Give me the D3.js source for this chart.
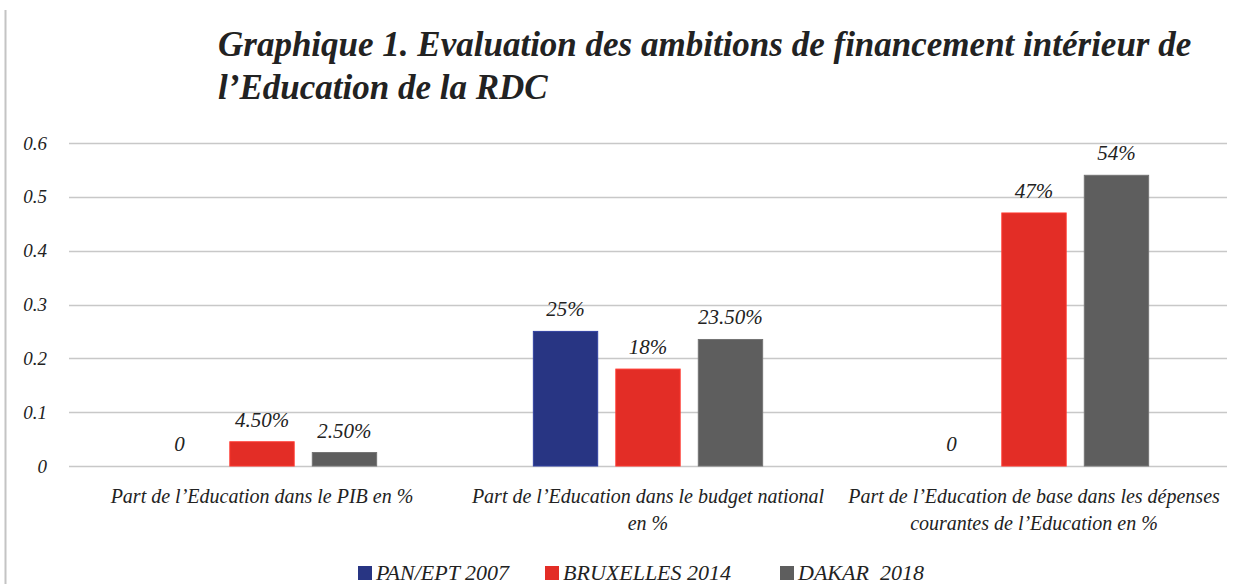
<!DOCTYPE html>
<html>
<head>
<meta charset="utf-8">
<script src="https://cdn.jsdelivr.net/npm/d3@7"></script>
<style>
  body { margin: 0; background: #fff; }
  text { font-family: "Liberation Serif", "DejaVu Serif", serif; font-style: italic; fill: #222; }
</style>
</head>
<body>
<div class="chart"></div>
<script>
// data
const categories = [
  ["Part de l’Education dans le PIB en %"],
  ["Part de l’Education dans le budget national", "en %"],
  ["Part de l’Education de base dans les dépenses", "courantes de l’Education en %"]
];
const series = ["PAN/EPT 2007", "BRUXELLES 2014", "DAKAR  2018"];
const pan = [0, 0.25, 0];
const bruxelles = [0.045, 0.18, 0.47];
const dakar = [0.025, 0.235, 0.54];
const labelsPan = ["0", "25%", "0"];
const labelsBrux = ["4.50%", "18%", "47%"];
const labelsDakar = ["2.50%", "23.50%", "54%"];
const yTicks = [0, 0.1, 0.2, 0.3, 0.4, 0.5, 0.6];
const colors = ["#283583", "#e32d26", "#5e5e5e"];

const width = 1240, height = 584;
const margin = {top: 143, left: 69, right: 13, bottom: 118};

const svg = d3.select('.chart').append('svg')
  .attr('width', width).attr('height', height);

// left page edge
svg.append('line')
  .attr('x1', 5.5).attr('x2', 5.5).attr('y1', 10).attr('y2', height)
  .attr('stroke', '#c4c4c4').attr('stroke-width', 2);

// title
const title = svg.append('text')
  .style('font-size', '35px').style('font-weight', 'bold');
title.append('tspan').attr('x', 218).attr('y', 56)
  .text("Graphique 1. Evaluation des ambitions de financement intérieur de");
title.append('tspan').attr('x', 218).attr('y', 99)
  .text("l’Education de la RDC");

const catKeys = categories.map(c => c.join(' '));

const x0 = d3.scaleBand()
  .domain(catKeys)
  .range([margin.left, width - margin.right]);

const x1 = d3.scaleBand()
  .domain(series)
  .range([0, x0.bandwidth()])
  .paddingInner(0.22)
  .paddingOuter(0.95);

const y = d3.scaleLinear()
  .domain([0, 0.6])
  .range([height - margin.bottom, margin.top]);

// gridlines
svg.append('g')
  .selectAll('line')
  .data(yTicks)
  .join('line')
  .attr('x1', margin.left).attr('x2', width - margin.right)
  .attr('y1', d => Math.round(y(d)) + 0.5).attr('y2', d => Math.round(y(d)) + 0.5)
  .attr('stroke', '#c8c8c8').attr('stroke-width', 1.5);

// y axis labels
const yAxis = svg.append('g')
  .attr('transform', `translate(${margin.left},0)`)
  .call(d3.axisLeft(y).tickValues(yTicks).tickFormat(d => d === 0 ? "0" : d3.format(".1f")(d)).tickSize(0).tickPadding(22));
yAxis.select('.domain').remove();
yAxis.selectAll('text')
  .style('font-size', '19px')
  .style('font-family', '"Liberation Serif", serif')
  .attr('fill', '#333');

const rows = catKeys.map((c, i) => ({
  cat: c,
  vals: [
    {s: series[0], v: pan[i], lab: labelsPan[i]},
    {s: series[1], v: bruxelles[i], lab: labelsBrux[i]},
    {s: series[2], v: dakar[i], lab: labelsDakar[i]}
  ]
}));

const groups = svg.append('g')
  .selectAll('g')
  .data(rows)
  .join('g')
  .attr('transform', d => `translate(${x0(d.cat)},0)`);

groups.selectAll('rect')
  .data(d => d.vals.filter(v => v.v > 0))
  .join('rect')
  .attr('x', d => x1(d.s))
  .attr('width', x1.bandwidth())
  .attr('y', d => y(d.v))
  .attr('height', d => y(0) - y(d.v))
  .attr('fill', d => colors[series.indexOf(d.s)])
  .attr('stroke', d => d3.color(colors[series.indexOf(d.s)]).brighter(0.6))
  .attr('stroke-width', 1);

groups.selectAll('text.val')
  .data(d => d.vals)
  .join('text')
  .attr('class', 'val')
  .attr('x', d => x1(d.s) + x1.bandwidth() / 2)
  .attr('y', d => y(d.v) - 15)
  .attr('text-anchor', 'middle')
  .style('font-size', '21px')
  .text(d => d.lab);

// category labels
const catLabel = svg.append('g')
  .selectAll('text')
  .data(categories)
  .join('text')
  .attr('text-anchor', 'middle')
  .style('font-size', '20px');

catLabel.selectAll('tspan')
  .data((d) => d.map(line => ({line, key: d.join(' ')})))
  .join('tspan')
  .attr('x', d => x0(d.key) + x0.bandwidth() / 2)
  .attr('y', (d, i) => 503 + i * 27)
  .text(d => d.line);

// legend
const legendX = [358, 545, 780];
const legend = svg.append('g')
  .selectAll('g')
  .data(series)
  .join('g')
  .attr('transform', (d, i) => `translate(${legendX[i]},566)`);
legend.append('rect')
  .attr('width', 14).attr('height', 14)
  .attr('fill', (d, i) => colors[i]);
legend.append('text')
  .attr('x', 18).attr('y', 14)
  .style('font-size', '22px')
  .style('white-space', 'pre')
  .attr('xml:space', 'preserve')
  .text(d => d);
</script>
</body>
</html>
